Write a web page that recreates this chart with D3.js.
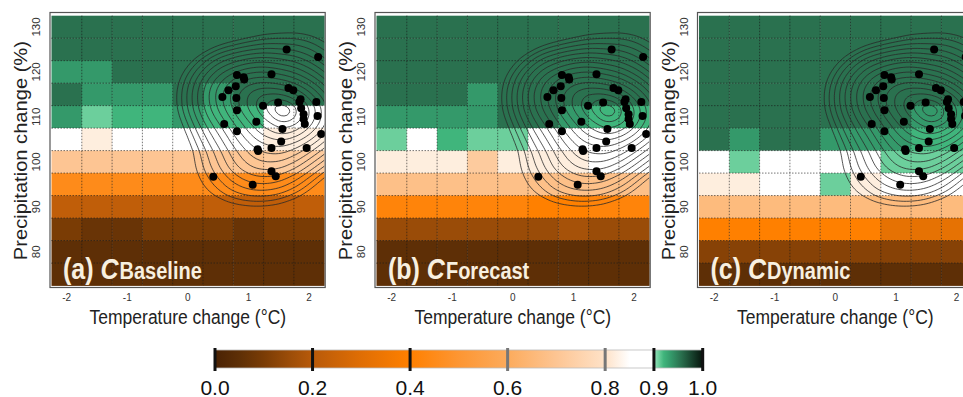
<!DOCTYPE html>
<html>
<head>
<meta charset="utf-8">
<script src="https://cdn.jsdelivr.net/npm/d3@7"></script>
<style>
  body { margin: 0; background: #fff; }
  text { font-family: "Liberation Sans", Arial, sans-serif; }
</style>
</head>
<body>
<div id="chart"></div>
<script>
// grid of the stress test: temperature (°C) columns, precipitation (%) rows
const tempCenters = [-2, -1.5, -1, -0.5, 0, 0.5, 1, 1.5, 2];
const precipCenters = [130, 125, 120, 115, 110, 105, 100, 95, 90, 85, 80, 75];
const xTicks = [-2, -1, 0, 1, 2];
const yTicks = [80, 90, 100, 110, 120, 130];
const legendTicks = [0, 0.2, 0.4, 0.6, 0.8, 0.9, 1.0];
const panelLetters = ["(a)", "(b)", "(c)"];
const panelNames = ["Baseline", "Forecast", "Dynamic"];

// reliability of each cell, rows from 130% down to 75%
const baseline = [
  [.955, .955, .955, .955, .955, .955, .955, .955, .955],
  [.955, .955, .955, .955, .955, .955, .955, .955, .955],
  [.935, .935, .955, .955, .955, .955, .955, .955, .955],
  [.955, .935, .935, .935, .955, .935, .955, .955, .955],
  [.935, .91, .92, .92, .935, .92, .92, .9, .9],
  [.87, .82, .87, .87, .87, .87, .87, .82, .82],
  [.7, .7, .7, .7, .7, .7, .7, .72, .72],
  [.45, .45, .45, .45, .45, .45, .45, .45, .45],
  [.22, .22, .22, .22, .22, .22, .22, .22, .22],
  [.1, .07, .07, .1, .1, .1, .07, .1, .1],
  [.05, .05, .05, .05, .05, .05, .05, .05, .05],
  [.05, .05, .05, .05, .05, .05, .05, .05, .05]
];
const forecast = [
  [.955, .955, .955, .955, .955, .955, .955, .955, .955],
  [.955, .955, .955, .955, .955, .955, .955, .955, .955],
  [.955, .955, .955, .955, .955, .955, .955, .955, .955],
  [.955, .955, .955, .935, .955, .955, .955, .955, .955],
  [.935, .935, .935, .935, .955, .955, .935, .92, .92],
  [.91, .87, .92, .91, .91, .9, .9, .87, .87],
  [.82, .82, .82, .72, .82, .82, .82, .87, .87],
  [.68, .68, .68, .68, .68, .68, .68, .68, .68],
  [.42, .42, .42, .42, .42, .4, .4, .42, .42],
  [.15, .15, .15, .15, .15, .15, .17, .15, .15],
  [.05, .05, .05, .05, .05, .05, .05, .05, .05],
  [.05, .05, .05, .05, .05, .05, .05, .05, .05]
];
const dynamic = [
  [.955, .955, .955, .955, .955, .955, .955, .955, .955],
  [.955, .955, .955, .955, .955, .955, .955, .955, .955],
  [.955, .955, .955, .955, .955, .955, .955, .955, .955],
  [.955, .955, .955, .955, .955, .955, .955, .955, .955],
  [.955, .955, .955, .955, .955, .955, .955, .935, .935],
  [.955, .935, .955, .955, .935, .935, .935, .92, .92],
  [.87, .91, .9, .9, .9, .9, .91, .91, .91],
  [.82, .82, .87, .87, .91, .82, .87, .87, .87],
  [.66, .66, .66, .66, .66, .66, .66, .66, .66],
  [.4, .4, .4, .4, .4, .4, .32, .32, .32],
  [.12, .12, .12, .12, .12, .12, .12, .12, .12],
  [.05, .05, .05, .05, .05, .05, .05, .05, .05]
];

// GCM projected changes (dots)
const gcmTemp = [1.63, 2.15, 0.81, 0.92, 0.93, 1.38, 0.79, 0.67, 0.57, 0.80, 1.66, 1.74, 1.49,
  1.86, 1.84, 2.12, 1.24, 0.81, 1.87, 1.91, 2.14, 1.91, 1.93, 1.13, 0.60, 1.56, 0.81, 2.20,
  1.54, 1.15, 1.16, 1.38, 1.96, 1.38, 1.45, 0.42, 1.07];
const gcmPrecip = [125.0, 123.3, 119.3, 118.8, 118.3, 119.5, 116.8, 115.9, 114.4, 114.2, 116.4, 115.9, 113.2,
  113.9, 113.3, 113.3, 112.5, 111.5, 111.9, 110.6, 110.2, 109.5, 108.4, 108.9, 108.4, 107.3, 106.8, 106.2,
  104.5, 102.8, 102.4, 103.1, 103.1, 97.9, 96.8, 96.7, 94.9];

const panels = [baseline, forecast, dynamic];

const width = 963, height = 397;
const panelLeft = [51.5, 376.5, 699];
const plotW = 272.7, plotTop = 15.7, plotBottom = 285.5;
const stretch = 1.15; // the figure text is a bit taller than wide
const kdeSx = 0.72;   // x squeeze so the kernel is wider in temperature

const colorStops = [0, 0.05, 0.1, 0.15, 0.2, 0.3, 0.4, 0.5, 0.6, 0.7, 0.8, 0.85, 0.9, 0.9001, 0.91, 0.92, 0.935, 0.955, 1];
const colorRange = ["#4a2204", "#5e2f06", "#7a3c05", "#9a4c08", "#b85a0a", "#e06e04", "#ff8000", "#fd9633",
  "#fcab5c", "#fdc593", "#fee2c8", "#ffffff", "#ffffff", "#9be3c0", "#6ccf9c", "#40b57c", "#34996a", "#2a714f", "#06140c"];
const color = d3.scaleLinear().domain(colorStops).range(colorRange);

const svg = d3.select("#chart").append("svg")
  .attr("width", width).attr("height", height);

const pts = gcmTemp.map((t, i) => [t, gcmPrecip[i]]);

panels.forEach((grid, p) => {
  const x = d3.scaleLinear().domain([-2.25, 2.25]).range([panelLeft[p], panelLeft[p] + plotW]);
  const y = d3.scaleLinear().domain([72.5, 132.5]).range([plotBottom, plotTop]);
  const g = svg.append("g");

  g.append("clipPath").attr("id", "clip" + p)
    .append("rect")
    .attr("x", x(-2.25)).attr("y", y(132.5))
    .attr("width", x(2.25) - x(-2.25)).attr("height", y(72.5) - y(132.5));

  const cells = [];
  grid.forEach((row, r) => row.forEach((v, c) => cells.push({ t: tempCenters[c], pr: precipCenters[r], v })));

  g.append("g").selectAll("rect").data(cells).join("rect")
    .attr("x", d => x(d.t - 0.25))
    .attr("y", d => y(d.pr + 2.5))
    .attr("width", d => x(d.t + 0.25) - x(d.t - 0.25) + 0.4)
    .attr("height", d => y(d.pr - 2.5) - y(d.pr + 2.5) + 0.4)
    .attr("fill", d => color(d.v));

  // dotted grid on the cell edges
  const grd = g.append("g").attr("stroke", "#1a1a1a").attr("stroke-width", 0.8)
    .attr("stroke-dasharray", "1.5,1.5").attr("opacity", 0.75);
  grd.selectAll(".vx").data(d3.range(-1.75, 2, 0.5)).join("line")
    .attr("x1", d => x(d)).attr("x2", d => x(d)).attr("y1", plotTop).attr("y2", plotBottom);
  grd.selectAll(".hy").data(d3.range(77.5, 130, 5)).join("line")
    .attr("y1", d => y(d)).attr("y2", d => y(d)).attr("x1", x(-2.25)).attr("x2", x(2.25));

  // density contours of the GCM dots
  const cs = 2;
  const density = d3.contourDensity()
    .x(d => (x(d[0]) - x(-2.25)) * kdeSx)
    .y(d => y(d[1]) - plotTop)
    .size([plotW * kdeSx, plotBottom - plotTop])
    .cellSize(cs)
    .bandwidth(21)
    .thresholds(values => {
      const m = d3.max(values) / (cs * cs);
      return d3.range(0, 15).map(i => m * Math.exp(-0.5 * Math.pow(2.1 * (1 - i / 15), 2)));
    })(pts);

  g.append("g").attr("clip-path", `url(#clip${p})`)
    .append("g")
    .attr("transform", `translate(${x(-2.25)},${plotTop}) scale(${1 / kdeSx},1)`)
    .selectAll("path").data(density).join("path")
    .attr("d", d3.geoPath())
    .attr("fill", "none")
    .attr("stroke", "#2a2a2a")
    .attr("stroke-width", 0.8)
    .attr("vector-effect", "non-scaling-stroke");

  g.append("g").selectAll("circle").data(pts).join("circle")
    .attr("cx", d => x(d[0])).attr("cy", d => y(d[1]))
    .attr("r", 4).attr("fill", "#000");

  // frame
  g.append("rect")
    .attr("x", x(-2.25) - 1.5).attr("y", 12.5)
    .attr("width", plotW + 2.5).attr("height", 275)
    .attr("fill", "none").attr("stroke", "#555").attr("stroke-width", 1.2);

  // axes text
  g.append("g").selectAll("text").data(xTicks).join("text")
    .attr("transform", d => `translate(${x(d)},300.5) scale(1,${stretch})`)
    .attr("text-anchor", "middle").attr("font-size", 10).attr("fill", "#333")
    .text(d => d);
  g.append("g").selectAll("text").data(yTicks).join("text")
    .attr("transform", d => `translate(${x(-2.25) - 11.5},${y(d)}) rotate(-90) scale(${stretch},1)`)
    .attr("text-anchor", "middle").attr("font-size", 10).attr("fill", "#333")
    .text(d => d);

  g.append("text")
    .attr("transform", `translate(${(x(-2.25) + x(2.25)) / 2},324) scale(1,${stretch})`)
    .attr("text-anchor", "middle").attr("font-size", 17.5).attr("fill", "#222")
    .text("Temperature change (°C)");
  g.append("text")
    .attr("transform", `translate(${x(-2.25) - 24.5},${(plotTop + plotBottom) / 2}) rotate(-90) scale(${stretch},1)`)
    .attr("text-anchor", "middle").attr("font-size", 17.5).attr("fill", "#222")
    .text("Precipitation change (%)");

  const lab = g.append("text")
    .attr("transform", `translate(${x(-2.25) + 11.5},279) scale(1,${stretch})`)
    .attr("fill", "#f8f0e0").attr("font-weight", "bold").attr("font-size", 25);
  lab.append("tspan").text(panelLetters[p] + " ");
  lab.append("tspan").attr("font-style", "italic").text("C");
  lab.append("tspan").attr("font-size", 20).attr("dx", 1).text(panelNames[p]);
});

// colour bar
const lx = d3.scaleLinear().domain([0, 1]).range([215, 702.7]);
const defs = svg.append("defs");
const grad = defs.append("linearGradient").attr("id", "cbar");
colorStops.forEach((s, i) => grad.append("stop").attr("offset", s).attr("stop-color", colorRange[i]));

svg.append("rect")
  .attr("x", lx(0)).attr("y", 350).attr("width", lx(1) - lx(0)).attr("height", 18)
  .attr("fill", "url(#cbar)").attr("stroke", "#bbb").attr("stroke-width", 0.8);

svg.append("g").selectAll("line").data(legendTicks).join("line")
  .attr("x1", d => lx(d)).attr("x2", d => lx(d))
  .attr("y1", 348).attr("y2", 371)
  .attr("stroke", d => (d === 0.6 || d === 0.8) ? "#777" : "#111")
  .attr("stroke-width", 3);

svg.append("g").selectAll("text").data(legendTicks).join("text")
  .attr("x", d => lx(d)).attr("y", 394.5)
  .attr("text-anchor", "middle").attr("font-size", 21).attr("fill", "#111")
  .text(d => d3.format(".1f")(d));
</script>
</body>
</html>
